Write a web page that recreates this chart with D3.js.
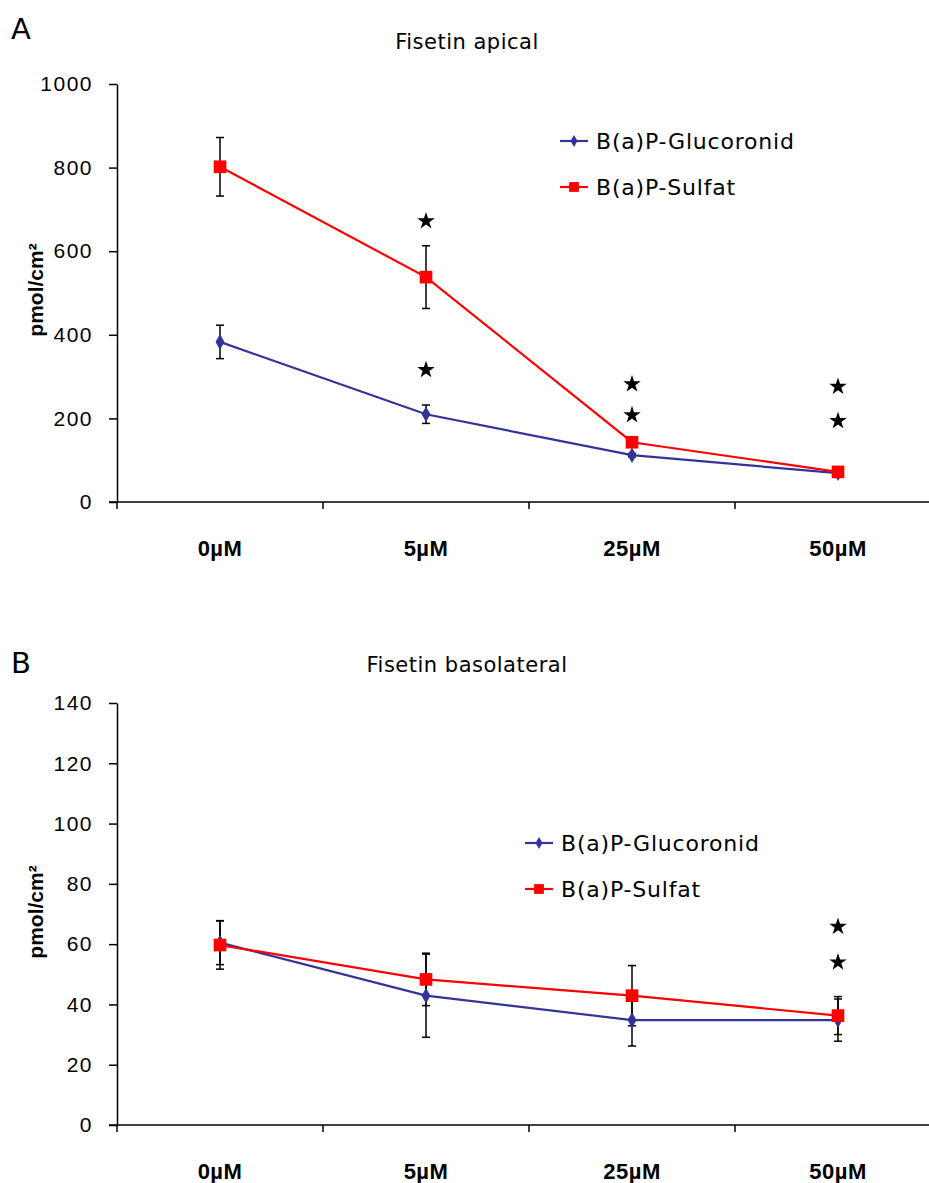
<!DOCTYPE html>
<html>
<head>
<meta charset="utf-8">
<script src="https://cdn.jsdelivr.net/npm/d3@7"></script>
<style>
  body { margin: 0; background: white; }
</style>
</head>
<body>
<div id="viz-container"></div>
<script>
// categories + series
const doses = ["0µM", "5µM", "25µM", "50µM"];
const seriesNames = ["B(a)P-Glucoronid", "B(a)P-Sulfat"];

// panel A - apical
const apicalTicks = [0, 200, 400, 600, 800, 1000];
const apicalGluc = [383, 210, 112, 69];
const apicalGlucErr = [40, 22, 4, 3];
const apicalSulf = [802, 538, 143, 72];
const apicalSulfErr = [70, 75, 3, 3];
const apicalStars = [[], [672, 316], [282, 208], [276, 194]];

// panel B - basolateral
const baseTicks = [0, 20, 40, 60, 80, 100, 120, 140];
const baseGluc = [60.5, 42.9, 34.8, 34.8];
const baseGlucErr = [7.3, 13.8, 8.6, 7];
const baseSulf = [59.7, 48.3, 42.9, 36.3];
const baseSulfErr = [8, 8.7, 10, 6.3];
const baseStars = [[], [], [], [65.8, 54]];

const W = 929, H = 1183;
const blue = "#333399", red = "#ff0000";
const handFont = "'Comic Sans MS', 'DejaVu Sans', sans-serif";

let viz = d3.select("#viz-container")
  .append("svg")
    .attr("width", W)
    .attr("height", H)
    .style("font-family", "'Liberation Sans', Arial, sans-serif");

viz.append("rect").attr("width", W).attr("height", H).attr("fill", "white");

function drawPanel(p) {
  let g = viz.append("g");

  let x = d3.scaleBand().domain(doses).range([117, 941]).padding(0);
  let y = d3.scaleLinear().domain([0, p.yMax]).range([p.bottom, p.top]);
  let cx = d => x(d) + x.bandwidth() / 2;

  // y axis
  let yAxis = g.append("g")
    .attr("transform", "translate(117,0)")
    .call(d3.axisLeft(y).tickValues(p.ticks).tickFormat(d3.format("d"))
      .tickSize(8).tickSizeOuter(0).tickPadding(16));
  yAxis.select(".domain").attr("stroke", "black").attr("stroke-width", 1.5);
  yAxis.selectAll(".tick line").attr("stroke-width", 1.5);
  yAxis.selectAll(".tick text")
    .attr("font-size", 21)
    .attr("letter-spacing", 1.5)
    .attr("fill", "black")
    .attr("font-family", "'Liberation Sans', Arial, sans-serif");

  // x axis: ticks at the band edges
  let xAxisG = g.append("g").attr("transform", `translate(0,${p.bottom})`);
  xAxisG.append("line")
    .attr("x1", 109).attr("x2", W)
    .attr("y1", 0).attr("y2", 0)
    .attr("stroke", "black").attr("stroke-width", 1.5);
  xAxisG.selectAll(".xtick").data(doses).enter()
    .append("line")
      .attr("x1", d => x(d)).attr("x2", d => x(d))
      .attr("y1", 0).attr("y2", 7)
      .attr("stroke", "black").attr("stroke-width", 1.5);
  xAxisG.selectAll(".xlab").data(doses).enter()
    .append("text")
      .attr("x", cx)
      .attr("y", 54)
      .attr("text-anchor", "middle")
      .attr("font-size", 22)
      .attr("font-weight", "bold")
      .attr("letter-spacing", 0.5)
      .text(d => d);

  // titles, panel letters, axis label
  g.append("text")
    .attr("x", 467).attr("y", p.titleY)
    .attr("text-anchor", "middle")
    .attr("font-family", handFont)
    .attr("font-size", 21)
    .attr("letter-spacing", 0.5)
    .text(p.title);

  g.append("text")
    .attr("x", 11).attr("y", p.letterY)
    .attr("font-family", handFont)
    .attr("font-size", 29)
    .text(p.letter);

  g.append("text")
    .attr("transform", `translate(43,${p.labelY}) rotate(-90)`)
    .attr("text-anchor", "middle")
    .attr("font-size", 21)
    .attr("font-weight", "bold")
    .text("pmol/cm²");

  let series = [
    { name: seriesNames[0], vals: p.gluc, err: p.glucErr, color: blue, shape: d3.symbolDiamond, size: 70 },
    { name: seriesNames[1], vals: p.sulf, err: p.sulfErr, color: red, shape: d3.symbolSquare, size: 160 }
  ];

  // error bars
  series.forEach(s => {
    let eb = g.append("g");
    doses.forEach((d, i) => {
      let xx = cx(d);
      let y1 = y(s.vals[i] + s.err[i]), y2 = y(s.vals[i] - s.err[i]);
      eb.append("line").attr("x1", xx).attr("x2", xx).attr("y1", y1).attr("y2", y2)
        .attr("stroke", "black").attr("stroke-width", 1.5);
      [y1, y2].forEach(yy => {
        eb.append("line").attr("x1", xx - 4).attr("x2", xx + 4).attr("y1", yy).attr("y2", yy)
          .attr("stroke", "black").attr("stroke-width", 1.5);
      });
    });
  });

  // lines + markers
  series.forEach(s => {
    let line = d3.line().x((v, i) => cx(doses[i])).y(v => y(v));
    g.append("path")
      .attr("d", line(s.vals))
      .attr("fill", "none")
      .attr("stroke", s.color)
      .attr("stroke-width", 2.2);
    g.selectAll(null).data(s.vals).enter()
      .append("path")
        .attr("d", d3.symbol().type(s.shape).size(s.size))
        .attr("transform", (v, i) => `translate(${cx(doses[i])},${y(v)})`)
        .attr("fill", s.color);
  });

  // significance stars
  doses.forEach((d, i) => {
    g.selectAll(null).data(p.stars[i]).enter()
      .append("path")
        .attr("d", d3.symbol().type(d3.symbolStar).size(95))
        .attr("transform", v => `translate(${cx(d)},${y(v)})`)
        .attr("fill", "black");
  });

  // legend
  series.forEach((s, i) => {
    let ly = p.legendY + i * 46;
    g.append("line")
      .attr("x1", p.legendX).attr("x2", p.legendX + 28)
      .attr("y1", ly).attr("y2", ly)
      .attr("stroke", s.color).attr("stroke-width", 2.2);
    g.append("path")
      .attr("d", d3.symbol().type(s.shape).size(s.size * 0.6))
      .attr("transform", `translate(${p.legendX + 14},${ly})`)
      .attr("fill", s.color);
    g.append("text")
      .attr("x", p.legendX + 36).attr("y", ly + 8)
      .attr("font-family", handFont)
      .attr("font-size", 22)
      .attr("letter-spacing", 0.8)
      .text(s.name);
  });
}

drawPanel({
  top: 84, bottom: 502, yMax: 1000, ticks: apicalTicks,
  gluc: apicalGluc, glucErr: apicalGlucErr, sulf: apicalSulf, sulfErr: apicalSulfErr,
  stars: apicalStars, title: "Fisetin apical", titleY: 49, letter: "A", letterY: 39,
  labelY: 290, legendX: 560, legendY: 141
});

drawPanel({
  top: 703, bottom: 1125, yMax: 140, ticks: baseTicks,
  gluc: baseGluc, glucErr: baseGlucErr, sulf: baseSulf, sulfErr: baseSulfErr,
  stars: baseStars, title: "Fisetin basolateral", titleY: 672, letter: "B", letterY: 673,
  labelY: 912, legendX: 525, legendY: 843
});
</script>
</body>
</html>
